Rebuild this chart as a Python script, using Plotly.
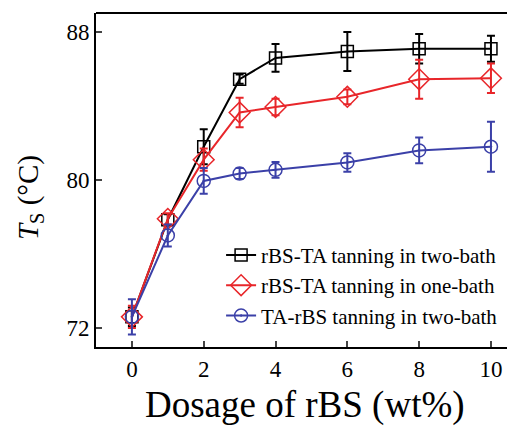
import plotly.graph_objects as go

dosage = [0, 1, 2, 3, 4, 6, 8, 10]

two_bath_rbs_ta = [72.6, 77.85, 81.8, 85.45, 86.6, 86.95, 87.1, 87.1]
two_bath_rbs_ta_err = [0.5, 0.3, 0.95, 0.25, 0.75, 1.05, 0.8, 0.7]

one_bath_rbs_ta = [72.6, 77.9, 81.1, 83.65, 83.95, 84.5, 85.45, 85.5]
one_bath_rbs_ta_err = [0.6, 0.3, 0.6, 0.8, 0.45, 0.4, 1.05, 0.8]

two_bath_ta_rbs = [72.6, 77.0, 79.95, 80.35, 80.55, 80.95, 81.6, 81.8]
two_bath_ta_rbs_err = [0.95, 0.6, 0.7, 0.3, 0.43, 0.5, 0.7, 1.35]

names = ["rBS-TA tanning in two-bath", "rBS-TA tanning in one-bath", "TA-rBS tanning in two-bath"]
x_ticks = [0, 2, 4, 6, 8, 10]
y_ticks = [72, 80, 88]
x_title = "Dosage of rBS (wt%)"
y_title = "<i>T</i><sub>S</sub> (°C)"

FONT = "Liberation Serif, Times New Roman, serif"

series = [
    (two_bath_rbs_ta, two_bath_rbs_ta_err, "#000000", "square-open", 12),
    (one_bath_rbs_ta, one_bath_rbs_ta_err, "#e8262a", "diamond-open", 16),
    (two_bath_ta_rbs, two_bath_ta_rbs_err, "#3b40a8", "circle-open-dot", 13),
]

fig = go.Figure()
for (vals, errs, color, sym, size), name in zip(series, names):
    fig.add_trace(go.Scatter(
        x=dosage, y=vals, name=name, mode="lines+markers",
        line=dict(color=color, width=2),
        marker=dict(symbol=sym, size=size, color=color, line=dict(color=color, width=1.5)),
        error_y=dict(type="data", array=errs, visible=True, color=color, thickness=2, width=4),
    ))

fig.update_layout(
    width=530, height=418,
    margin=dict(l=88, r=0, t=5, b=79),
    paper_bgcolor="white", plot_bgcolor="white",
    font=dict(family=FONT, color="black"),
    showlegend=True,
    legend=dict(x=0.283, y=0.336, xanchor="left", yanchor="top",
                font=dict(family=FONT, size=21, color="black"),
                bgcolor="rgba(0,0,0,0)", tracegroupgap=0, itemwidth=30),
    shapes=[dict(type="line", xref="paper", yref="paper", x0=0, x1=1, y0=1, y1=1,
                 line=dict(color="black", width=2))],
    annotations=[
        dict(text=x_title, xref="paper", yref="paper", x=0.473, y=0, xanchor="center",
             yanchor="middle", yshift=-58, showarrow=False,
             font=dict(family=FONT, size=37, color="black")),
        dict(text=y_title, xref="paper", yref="paper", x=0, y=0.446, xanchor="center",
             yanchor="middle", xshift=-66, textangle=-90, showarrow=False,
             font=dict(family=FONT, size=29, color="black")),
    ],
)
fig.update_xaxes(
    range=[-1, 11.31], tickvals=x_ticks, ticks="inside", ticklen=6, tickwidth=2,
    showline=True, linewidth=2, linecolor="black", mirror=False, showgrid=False, zeroline=False,
    tickfont=dict(family=FONT, size=23, color="black"),
)
fig.update_yaxes(
    range=[70.97, 89.03], tickvals=y_ticks, ticks="inside", ticklen=6, tickwidth=2,
    showline=True, linewidth=2, linecolor="black", mirror=False, showgrid=False, zeroline=False,
    tickfont=dict(family=FONT, size=23, color="black"),
)

fig.write_html("out.html")
